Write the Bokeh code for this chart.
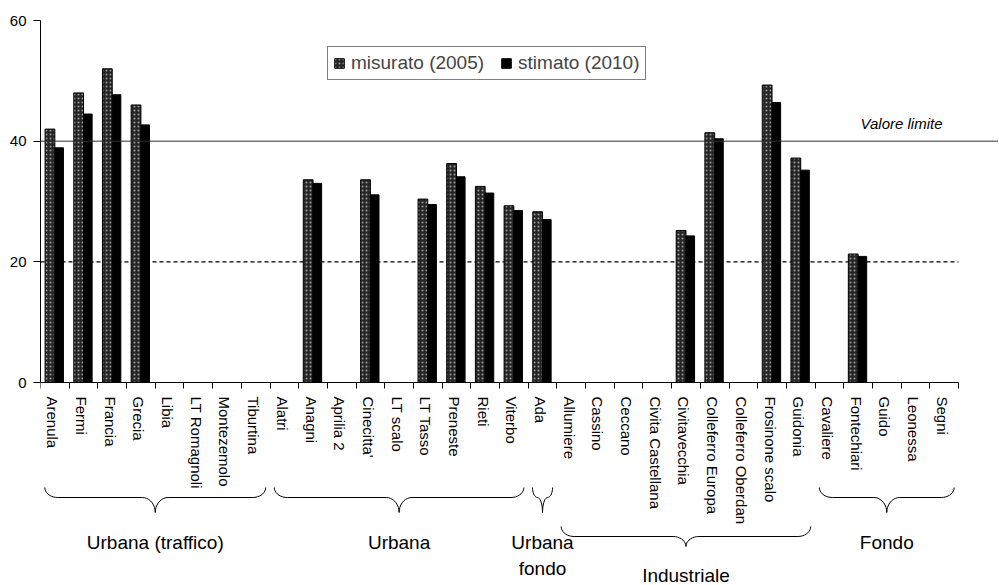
import math
import numpy as np
from bokeh.plotting import figure
from bokeh.models import (Range1d, FixedTicker, Span, Label, Legend, LegendItem,
                          ColumnDataSource)
from bokeh.core.properties import value
from bokeh.transform import dodge
from bokeh.embed import file_html
from bokeh.resources import INLINE

nan = float("nan")

# ---------------- data ----------------
stations = ["Arenula", "Fermi", "Francia", "Grecia", "Libia", "LT Romagnoli",
            "Montezemolo", "Tiburtina", "Alatri", "Anagni", "Aprilia 2",
            "Cinecitta'", "LT scalo", "LT Tasso", "Preneste", "Rieti", "Viterbo",
            "Ada", "Allumiere", "Cassino", "Ceccano", "Civita Castellana",
            "Civitavecchia", "Colleferro Europa", "Colleferro Oberdan",
            "Frosinone scalo", "Guidonia", "Cavaliere", "Fontechiari", "Guido",
            "Leonessa", "Segni"]

misurato_2005 = [42.0, 48.0, 52.0, 46.0, nan, nan, nan, nan, nan, 33.6, nan,
                 33.6, nan, 30.4, 36.3, 32.5, 29.3, 28.3, nan, nan, nan, nan,
                 25.2, 41.4, nan, 49.3, 37.2, nan, 21.3, nan, nan, nan]

stimato_2010 = [38.9, 44.5, 47.7, 42.7, nan, nan, nan, nan, nan, 33.0, nan,
                31.1, nan, 29.5, 34.1, 31.4, 28.5, 27.0, nan, nan, nan, nan,
                24.3, 40.4, nan, 46.4, 35.2, nan, 20.9, nan, nan, nan]

group_names = ["Urbana (traffico)", "Urbana", "Urbana\nfondo", "Industriale", "Fondo"]
group_sizes = [8, 9, 1, 9, 5]

valore_limite = 40
soglia = 20
y_ticks = [0, 20, 40, 60]

# ---------------- layout constants ----------------
n = len(stations)
FRAME_W, FRAME_H = 958, 565
TOP, LEFT = 20, 40
px_per_cat = 918 / n
px_per_unit = 362 / 60
x_end = FRAME_W / px_per_cat
y_start = -(FRAME_H - 362) / px_per_unit


def py(page_y):
    """page pixel -> data units on the value scale"""
    return -(page_y - (TOP + 362)) / px_per_unit


src = ColumnDataSource(dict(
    x=np.arange(n) + 0.5,
    zero=np.zeros(n),
    name=stations,
    mis=misurato_2005,
    sti=stimato_2010,
))

p = figure(frame_width=FRAME_W, frame_height=FRAME_H,
           x_range=Range1d(0, x_end), y_range=Range1d(y_start, 60),
           x_axis_location="above",
           output_backend="svg", toolbar_location=None,
           min_border_left=LEFT, min_border_top=TOP, min_border_right=0,
           min_border_bottom=0)
p.outline_line_color = None
p.xgrid.visible = False
p.ygrid.visible = False
p.background_fill_color = "white"

# x axis drawn at value 0, ticks pointing down
xa = p.xaxis[0]
xa.fixed_location = 0
xa.ticker = FixedTicker(ticks=list(range(n + 1)), minor_ticks=[])
xa.major_label_overrides = {i: "" for i in range(n + 1)}
xa.major_label_standoff = 0
xa.major_tick_out = 0
xa.major_tick_in = 6
xa.bounds = (0, n)
xa.axis_line_color = "black"
xa.major_tick_line_color = "black"

ya = p.yaxis[0]
ya.ticker = FixedTicker(ticks=y_ticks, minor_ticks=[])
ya.bounds = (0, 60)
ya.major_tick_out = 7
ya.major_tick_in = 0
ya.major_label_standoff = 7
ya.major_label_text_font = "Liberation Sans"
ya.major_label_text_font_size = "15px"
ya.major_label_text_color = "black"
ya.axis_line_color = "black"

# reference lines
p.add_layout(Span(location=valore_limite, dimension="width",
                  line_color="#303030", line_width=1))
p.segment(x0=[0], y0=[soglia], x1=[n], y1=[soglia], line_color="black",
          line_width=1.2, line_dash="4 3")

# bars
r1 = p.vbar(x=dodge("x", -0.17, range=p.x_range), top="mis", width=0.34,
            source=src, fill_color="#262626", line_color="black",
            line_width=1, hatch_pattern="dot", hatch_color="#9a9a9a",
            hatch_scale=4, hatch_weight=1)
r2 = p.vbar(x=dodge("x", 0.15, range=p.x_range), top="sti", width=0.30,
            source=src, fill_color="black", line_color="black", line_width=1)

# category labels
p.text(x="x", y="zero", text="name", source=src, angle=-math.pi / 2,
       text_align="left", text_baseline="middle", y_offset=14, x_offset=-2,
       text_font=value("Liberation Sans"), text_font_size="15px",
       text_color="black")

# valore limite label
p.add_layout(Label(x=n, y=valore_limite, x_offset=-16, y_offset=9,
                   text="Valore limite", text_align="right",
                   text_baseline="bottom", text_font="Liberation Sans",
                   text_font_style="italic", text_font_size="15px",
                   text_color="black"))

# group braces
levels = {
    0: dict(top=py(487), line=py(497), tip=py(512), text=py(531)),
    1: dict(top=py(526), line=py(536), tip=py(546), text=py(564)),
}
starts = np.cumsum([0] + group_sizes[:-1])
bx, by, tx, ty, tt = [], [], [], [], []
r = 0.45
for name, s, size in zip(group_names, starts, group_sizes):
    tier = 1 if name == "Industriale" else 0
    L = levels[tier]
    x0, x1 = s + 0.15, s + size - 0.15
    xm = (x0 + x1) / 2
    rr = min(r, (x1 - x0) / 4)
    t = np.linspace(0, np.pi / 2, 10)
    c1x = x0 + rr * (1 - np.cos(t))
    c1y = L["line"] + (L["top"] - L["line"]) * (1 - np.sin(t))
    c2x = xm - rr + rr * np.sin(t)
    c2y = L["line"] + (L["tip"] - L["line"]) * (1 - np.cos(t))
    c3x = xm + rr * (1 - np.cos(t))
    c3y = L["tip"] + (L["line"] - L["tip"]) * np.sin(t)
    c4x = x1 - rr + rr * np.sin(t)
    c4y = L["line"] + (L["top"] - L["line"]) * (1 - np.cos(t))
    bx.append(np.concatenate([c1x, c2x, c3x, c4x]).tolist())
    by.append(np.concatenate([c1y, c2y, c3y, c4y]).tolist())
    tx.append(xm)
    ty.append(L["text"])
    tt.append(name)

p.multi_line(xs=bx, ys=by, line_color="black", line_width=1)
p.text(x=tx, y=ty, text=tt, text_align="center", text_baseline="top",
       text_font=value("Liberation Sans"), text_font_size="19px",
       text_color="black", text_line_height=1.25)

# legend
legend = Legend(items=[LegendItem(label="misurato (2005)", renderers=[r1]),
                       LegendItem(label="stimato (2010)", renderers=[r2])],
                location=(287, FRAME_H - 80 + TOP), orientation="horizontal",
                label_text_font="Liberation Sans", label_text_font_size="19px",
                glyph_width=12, glyph_height=12, label_standoff=6, spacing=16,
                padding=5, margin=0, border_line_color="black",
                border_line_width=1, background_fill_color="white",
                background_fill_alpha=1)
p.add_layout(legend)

open("out.html", "w").write(file_html(p, INLINE))
